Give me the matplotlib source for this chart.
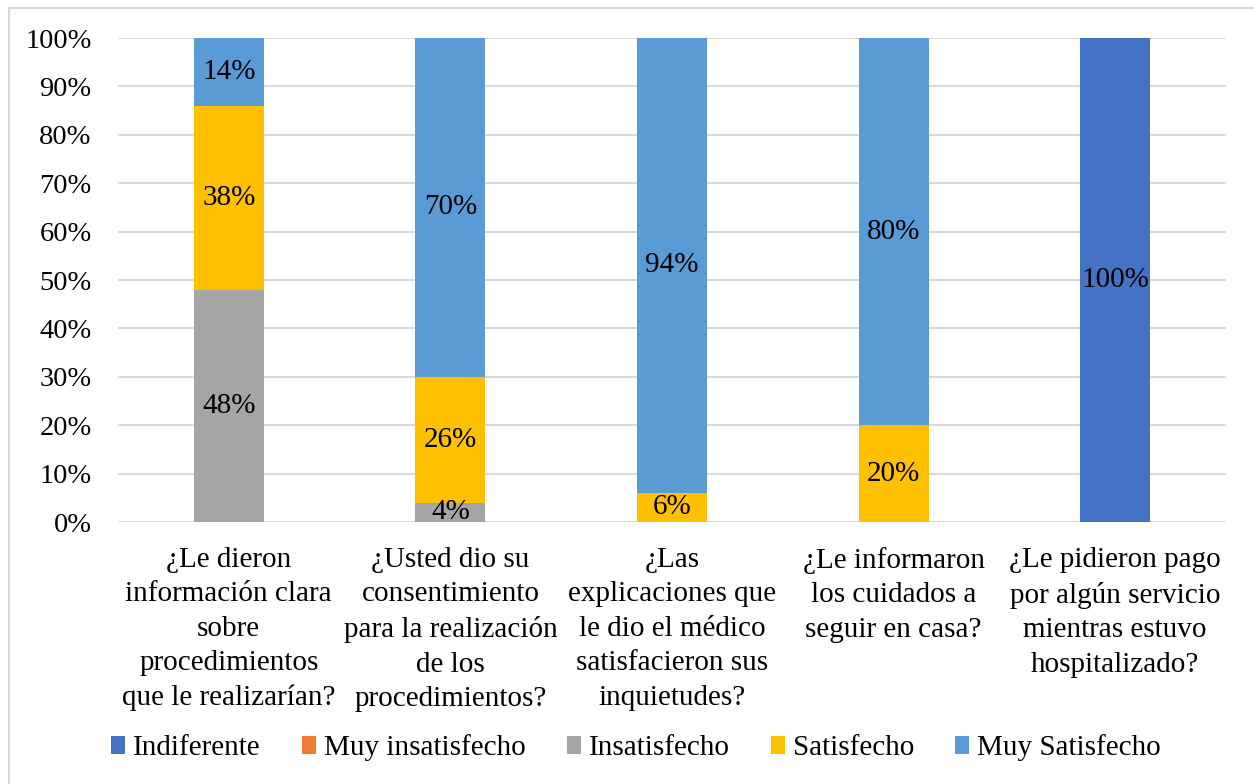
import matplotlib.pyplot as plt
from matplotlib.patches import Rectangle
import numpy as np

plt.rcParams['font.family'] = ['Liberation Serif', 'DejaVu Serif']

questions = [
    "¿Le dieron\ninformación clara\nsobre\nprocedimientos\nque le realizarían?",
    "¿Usted dio su\nconsentimiento\npara la realización\nde los\nprocedimientos?",
    "¿Las\nexplicaciones que\nle dio el médico\nsatisfacieron sus\ninquietudes?",
    "¿Le informaron\nlos cuidados a\nseguir en casa?",
    "¿Le pidieron pago\npor algún servicio\nmientras estuvo\nhospitalizado?",
]
series_names = ["Indiferente", "Muy insatisfecho", "Insatisfecho", "Satisfecho", "Muy Satisfecho"]
indiferente = [0, 0, 0, 0, 100]
muy_insatisfecho = [0, 0, 0, 0, 0]
insatisfecho = [48, 4, 0, 0, 0]
satisfecho = [38, 26, 6, 20, 0]
muy_satisfecho = [14, 70, 94, 80, 0]
colors = ["#4472C4", "#ED7D31", "#A5A5A5", "#FFC000", "#5B9BD5"]

W, H = 1254, 784
fig = plt.figure(figsize=(W / 100, H / 100), dpi=100)
ax = fig.add_axes([118 / W, 1 - 522 / H, (1226 - 118) / W, (522 - 38) / H])

# outer chart frame
fig.patches.append(Rectangle((9 / W, -0.01), 1.2, 1 - 8 / H + 0.01, transform=fig.transFigure,
                             fill=False, edgecolor="#D9D9D9", linewidth=1.5, zorder=0))

x = np.arange(len(questions))
bottom = np.zeros(len(questions))
for name, vals, col in zip(series_names,
                           [indiferente, muy_insatisfecho, insatisfecho, satisfecho, muy_satisfecho],
                           colors):
    vals = np.array(vals, dtype=float)
    ax.bar(x, vals, width=0.316, bottom=bottom, color=col, label=name, zorder=3)
    for xi, b, v in zip(x, bottom, vals):
        if v > 0:
            ax.text(xi, b + v / 2, f"{int(v)}%", ha="center", va="center",
                    fontsize=21, color="black", zorder=4)
    bottom += vals

ax.set_xlim(-0.5, len(questions) - 0.5)
ax.set_ylim(0, 100)
ax.set_yticks(np.arange(0, 101, 10))
ax.set_yticklabels([f"{v}%" for v in range(0, 101, 10)], fontsize=20.5)
ax.set_xticks(x)
ax.set_xticklabels(questions, fontsize=21, linespacing=1.42)
ax.tick_params(axis="both", length=0)
ax.tick_params(axis="y", pad=19)
ax.tick_params(axis="x", pad=18)
ax.grid(axis="y", color="#D9D9D9", linewidth=1.5, zorder=0)
for s in ax.spines.values():
    s.set_visible(False)

handles, labels = ax.get_legend_handles_labels()
fig.legend(handles, labels, loc="center", bbox_to_anchor=(636 / W, 1 - 748 / H), ncol=5,
           frameon=False, fontsize=21, handlelength=0.48, handleheight=0.55,
           handletextpad=0.28, columnspacing=1.4)

fig.savefig("out.png", dpi=100)
